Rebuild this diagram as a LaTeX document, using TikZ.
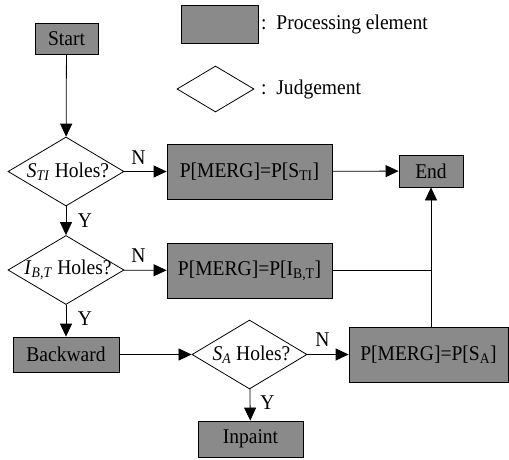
\documentclass[tikz,border=0pt]{standalone}
\usepackage{fontspec}
\setmainfont{Liberation Serif}[FakeStretch=0.93]
\usetikzlibrary{shapes.geometric,arrows.meta}
\definecolor{boxgray}{RGB}{138,138,138}
\tikzset{
  every node/.style={font=\fontsize{21}{24}\selectfont},
  procbox/.style={draw=black, fill=boxgray, line width=0.8pt, inner sep=0pt, rectangle},
  judge/.style={draw=black, fill=white, line width=0.8pt, diamond, inner sep=0pt, minimum width=116pt, minimum height=69pt},
  conn/.style={line width=0.8pt, -{Triangle[length=13pt,width=12pt]}},
  plain/.style={line width=0.8pt},
  lbl/.style={inner sep=0pt}
}
\begin{document}
\begin{tikzpicture}[x=1pt,y=-1pt]
\useasboundingbox (0,0) rectangle (509,459);
% legend
\node[procbox, minimum width=77pt, minimum height=38pt] (lgbox) at (219.5,24) {};
\node[lbl, anchor=west] (lgboxt) at (261,24) {:\ \ Processing element};
\node[judge, minimum width=77pt, minimum height=46pt] (lgdia) at (215.5,89) {};
\node[lbl, anchor=west] (lgdiat) at (261,89) {:\ \ Judgement};
% flow
\node[procbox, minimum width=63pt, minimum height=31pt] (start) at (66.5,38.5) {Start};
\node[judge] (d1) at (66,171.5) {\makebox[0pt]{\hspace{4pt}\textit{S}\textsubscript{\textit{TI}} Holes?}};
\node[procbox, minimum width=165pt, minimum height=55pt] (p1) at (249.5,171.5) {P[MERG]=P[S\textsubscript{TI}]};
\node[procbox, minimum width=64pt, minimum height=32pt] (end) at (431,171) {End};
\node[judge] (d2) at (66,270) {\makebox[0pt]{\hspace{4pt}\textit{I}\textsubscript{\textit{B,T}} Holes?}};
\node[procbox, minimum width=165pt, minimum height=55pt] (p2) at (249.5,270.5) {P[MERG]=P[I\textsubscript{B,T}]};
\node[procbox, minimum width=106pt, minimum height=35pt] (back) at (66,354.5) {Backward};
\node[judge, minimum width=115pt] (d3) at (249.5,354.5) {\makebox[0pt]{\hspace{4pt}\textit{S}\textsubscript{\textit{A}} Holes?}};
\node[procbox, minimum width=159pt, minimum height=55pt] (p3) at (428.5,354.5) {P[MERG]=P[S\textsubscript{A}]};
\node[procbox, minimum width=105pt, minimum height=36pt] (inp) at (250.5,439) {Inpaint};
% connectors
\draw[conn] (start) -- (d1);
\draw[conn] (d1) -- (p1);
\draw[conn] (p1) -- (end);
\draw[conn] (d1) -- (d2);
\draw[conn] (d2) -- (p2);
\draw[conn] (d2) -- (back);
\draw[conn] (back) -- (d3);
\draw[conn] (d3) -- (p3);
\draw[conn] (d3) -- (inp);
\coordinate (j2) at (p2.east -| end.south);
\draw[plain] (p2.east) -- (j2);
\draw[conn] (p3.north -| end.south) -- (end.south);
% labels
\node[lbl] (n1) at ([xshift=14pt,yshift=14pt]d1.east) {N};
\node[lbl] (y1) at ([xshift=19pt,yshift=-14pt]d1.south) {Y};
\node[lbl] (n2) at ([xshift=14pt,yshift=14pt]d2.east) {N};
\node[lbl] (y2) at ([xshift=19pt,yshift=-14pt]d2.south) {Y};
\node[lbl] (n3) at ([xshift=15pt,yshift=15pt]d3.east) {N};
\node[lbl] (y3) at ([xshift=18pt,yshift=-13.5pt]d3.south) {Y};
\end{tikzpicture}
\end{document}
